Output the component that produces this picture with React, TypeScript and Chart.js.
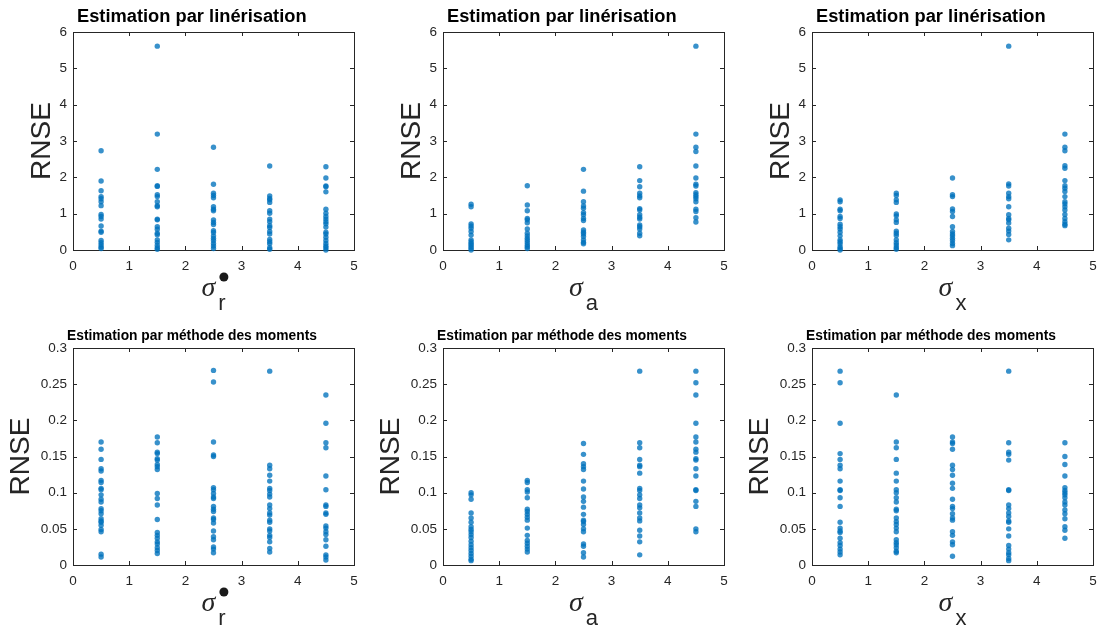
import React, { useEffect, useRef } from "react";
import { Chart, registerables } from "chart.js";

Chart.register(...registerables);

// ---------- data ----------
const xGroups = [0.5, 1.5, 2.5, 3.5, 4.5];
const xTicks = [0, 1, 2, 3, 4, 5];
const yTicksLin = [0, 1, 2, 3, 4, 5, 6];
const yTicksMom = [0, 0.05, 0.1, 0.15, 0.2, 0.25, 0.3];
const titleLin = "Estimation par linérisation";
const titleMom = "Estimation par méthode des moments";
const yLabelText = "RNSE";
const xSymbol = "σ";
const xSubscripts = ["r", "a", "x"];

// Estimation par linérisation — RNSE vs σr
const linSigmaR: number[][] = [
  [2.73, 1.9, 1.63, 1.47, 1.41, 1.33, 1.22, 0.98, 0.92, 0.85, 0.66, 0.52, 0.49, 0.26, 0.2, 0.14, 0.08, 0.04],
  [5.61, 3.19, 2.22, 1.77, 1.75, 1.52, 1.47, 1.33, 1.22, 1.19, 0.85, 0.83, 0.64, 0.57, 0.46, 0.42, 0.28, 0.21, 0.13, 0.06, 0.02],
  [2.83, 1.81, 1.56, 1.5, 1.44, 1.19, 1.12, 1.08, 0.83, 0.76, 0.7, 0.53, 0.48, 0.39, 0.32, 0.26, 0.18, 0.11, 0.04],
  [2.31, 1.49, 1.42, 1.38, 1.31, 1.08, 1.01, 0.85, 0.78, 0.67, 0.62, 0.51, 0.44, 0.29, 0.23, 0.17, 0.06, 0.02],
  [2.29, 1.98, 1.76, 1.74, 1.6, 1.12, 1.01, 0.92, 0.85, 0.78, 0.72, 0.63, 0.49, 0.44, 0.35, 0.26, 0.18, 0.11, 0.06, 0.0],
];
// Estimation par linérisation — RNSE vs σa
const linSigmaA: number[][] = [
  [1.26, 1.19, 0.72, 0.66, 0.6, 0.51, 0.41, 0.28, 0.23, 0.18, 0.14, 0.09, 0.05, 0.0],
  [1.77, 1.24, 1.08, 0.87, 0.83, 0.75, 0.58, 0.46, 0.39, 0.32, 0.26, 0.2, 0.14, 0.09, 0.04],
  [2.22, 1.62, 1.33, 1.21, 1.15, 1.03, 0.97, 0.87, 0.81, 0.55, 0.49, 0.44, 0.37, 0.28, 0.21, 0.17],
  [2.29, 1.91, 1.74, 1.56, 1.49, 1.44, 1.14, 1.1, 0.97, 0.9, 0.85, 0.69, 0.64, 0.58, 0.46, 0.39],
  [5.61, 3.19, 2.83, 2.71, 2.31, 1.98, 1.81, 1.76, 1.58, 1.52, 1.47, 1.41, 1.33, 1.12, 1.06, 0.89, 0.77],
];
// Estimation par linérisation — RNSE vs σx
const linSigmaX: number[][] = [
  [1.38, 1.33, 1.12, 1.08, 0.92, 0.87, 0.71, 0.64, 0.58, 0.49, 0.39, 0.28, 0.23, 0.17, 0.09, 0.04, 0.0],
  [1.56, 1.5, 1.38, 1.31, 0.99, 0.94, 0.83, 0.76, 0.52, 0.46, 0.4, 0.28, 0.2, 0.14, 0.07, 0.02],
  [1.98, 1.52, 1.47, 1.13, 1.06, 0.92, 0.64, 0.51, 0.44, 0.39, 0.32, 0.26, 0.18, 0.12],
  [5.61, 1.82, 1.76, 1.56, 1.47, 1.41, 1.19, 0.97, 0.87, 0.83, 0.74, 0.6, 0.52, 0.43, 0.28],
  [3.19, 2.83, 2.73, 2.32, 2.25, 1.91, 1.77, 1.7, 1.61, 1.47, 1.33, 1.27, 1.19, 1.1, 0.98, 0.87, 0.78, 0.71, 0.67],
];
// Estimation par méthode des moments — RNSE vs σr
const momSigmaR: number[][] = [
  [0.17, 0.16, 0.146, 0.133, 0.13, 0.117, 0.114, 0.106, 0.104, 0.097, 0.091, 0.087, 0.078, 0.075, 0.071, 0.064, 0.061, 0.059, 0.055, 0.049, 0.046, 0.015, 0.011],
  [0.177, 0.169, 0.156, 0.154, 0.147, 0.145, 0.139, 0.136, 0.132, 0.099, 0.092, 0.083, 0.063, 0.045, 0.041, 0.037, 0.032, 0.029, 0.024, 0.02, 0.016],
  [0.269, 0.253, 0.17, 0.152, 0.15, 0.107, 0.104, 0.099, 0.094, 0.092, 0.081, 0.077, 0.074, 0.065, 0.063, 0.058, 0.047, 0.039, 0.035, 0.025, 0.022, 0.017],
  [0.268, 0.138, 0.133, 0.124, 0.116, 0.106, 0.103, 0.098, 0.094, 0.083, 0.078, 0.072, 0.069, 0.062, 0.059, 0.05, 0.047, 0.041, 0.038, 0.032, 0.023, 0.018],
  [0.235, 0.196, 0.169, 0.162, 0.123, 0.104, 0.083, 0.081, 0.072, 0.07, 0.054, 0.051, 0.046, 0.042, 0.035, 0.026, 0.014, 0.011, 0.007],
];
// Estimation par méthode des moments — RNSE vs σa
const momSigmaA: number[][] = [
  [0.1, 0.097, 0.091, 0.072, 0.065, 0.059, 0.053, 0.049, 0.046, 0.042, 0.038, 0.033, 0.028, 0.024, 0.02, 0.016, 0.012, 0.008, 0.006],
  [0.117, 0.114, 0.104, 0.101, 0.093, 0.077, 0.074, 0.07, 0.066, 0.062, 0.051, 0.041, 0.034, 0.03, 0.026, 0.022, 0.018],
  [0.168, 0.153, 0.14, 0.136, 0.132, 0.116, 0.105, 0.094, 0.088, 0.08, 0.07, 0.062, 0.06, 0.056, 0.05, 0.046, 0.029, 0.026, 0.017, 0.011],
  [0.268, 0.169, 0.162, 0.146, 0.138, 0.136, 0.127, 0.106, 0.103, 0.097, 0.092, 0.083, 0.079, 0.072, 0.065, 0.061, 0.048, 0.04, 0.032, 0.014],
  [0.268, 0.252, 0.235, 0.196, 0.177, 0.17, 0.16, 0.156, 0.147, 0.145, 0.133, 0.123, 0.104, 0.103, 0.088, 0.081, 0.05, 0.046],
];
// Estimation par méthode des moments — RNSE vs σx
const momSigmaX: number[][] = [
  [0.268, 0.252, 0.196, 0.154, 0.146, 0.138, 0.133, 0.116, 0.104, 0.103, 0.093, 0.081, 0.059, 0.051, 0.047, 0.045, 0.037, 0.031, 0.027, 0.022, 0.018, 0.014],
  [0.235, 0.17, 0.162, 0.146, 0.127, 0.116, 0.104, 0.1, 0.093, 0.087, 0.077, 0.075, 0.065, 0.06, 0.056, 0.051, 0.046, 0.035, 0.031, 0.028, 0.024, 0.019, 0.017],
  [0.177, 0.17, 0.168, 0.16, 0.138, 0.132, 0.124, 0.113, 0.106, 0.091, 0.081, 0.078, 0.071, 0.065, 0.062, 0.046, 0.041, 0.032, 0.028, 0.012],
  [0.268, 0.169, 0.156, 0.153, 0.145, 0.104, 0.103, 0.083, 0.078, 0.072, 0.067, 0.061, 0.059, 0.05, 0.04, 0.027, 0.022, 0.017, 0.014, 0.009, 0.006],
  [0.169, 0.15, 0.139, 0.123, 0.107, 0.103, 0.1, 0.097, 0.093, 0.087, 0.083, 0.076, 0.071, 0.064, 0.053, 0.048, 0.037],
];

// ---------- styling ----------
const AXIS_COLOR = "#262626";
const POINT_COLOR = "rgba(0,114,189,0.78)";
const SANS = '"Liberation Sans", Arial, Helvetica, sans-serif';
const SERIF = '"Liberation Serif", "Times New Roman", serif';

type PanelCfg = {
  groups: number[][];
  yTicks: number[];
  yMax: number;
  title: string;
  titleFont: string;
  titleDx: number;
  titleDy: number;
  sub: string;
  bullet: boolean;
  yLabelDx: number;
  padTop: number;
};

const CANVAS_W = 359;
const CANVAS_H = 314;
const colLefts = [0, 370, 739];
const rowTops = [0, 315];

function makeDecor(cfg: PanelCfg) {
  return {
    id: "decor",
    beforeDatasetsDraw(chart: any) {
      const { ctx, chartArea, scales } = chart;
      const { left, right, top, bottom } = chartArea;
      ctx.save();
      ctx.strokeStyle = AXIS_COLOR;
      ctx.lineWidth = 1;
      ctx.strokeRect(Math.round(left) + 0.5, Math.round(top) + 0.5, Math.round(right - left), Math.round(bottom - top));
      const tl = 4;
      ctx.beginPath();
      xTicks.forEach((v) => {
        const px = Math.round(scales.x.getPixelForValue(v)) + 0.5;
        ctx.moveTo(px, bottom);
        ctx.lineTo(px, bottom - tl);
        ctx.moveTo(px, top);
        ctx.lineTo(px, top + tl);
      });
      cfg.yTicks.forEach((v) => {
        const py = Math.round(scales.y.getPixelForValue(v)) + 0.5;
        ctx.moveTo(left, py);
        ctx.lineTo(left + tl, py);
        ctx.moveTo(right, py);
        ctx.lineTo(right - tl, py);
      });
      ctx.stroke();
      ctx.restore();
    },
    afterDraw(chart: any) {
      const { ctx, chartArea } = chart;
      const { left, right, top, bottom } = chartArea;
      ctx.save();
      // title
      ctx.fillStyle = "#000";
      ctx.font = cfg.titleFont;
      ctx.textAlign = "left";
      ctx.textBaseline = "alphabetic";
      ctx.fillText(cfg.title, left + cfg.titleDx, top + cfg.titleDy);
      // y label
      ctx.save();
      ctx.translate(left + cfg.yLabelDx, (top + bottom) / 2);
      ctx.rotate(-Math.PI / 2);
      ctx.fillStyle = AXIS_COLOR;
      ctx.font = `28px ${SANS}`;
      ctx.textAlign = "center";
      ctx.textBaseline = "middle";
      ctx.fillText(yLabelText, 0, 0);
      ctx.restore();
      // x label: sigma with subscript
      ctx.fillStyle = AXIS_COLOR;
      ctx.textAlign = "left";
      ctx.textBaseline = "alphabetic";
      const sigFont = `italic 28px ${SERIF}`;
      const subFont = `22px ${SANS}`;
      ctx.font = sigFont;
      const w1 = ctx.measureText(xSymbol).width;
      ctx.font = subFont;
      const w2 = ctx.measureText(cfg.sub).width;
      const gap = 3;
      const total = w1 + gap + w2;
      const x0 = (left + right) / 2 - total / 2;
      ctx.font = sigFont;
      ctx.fillText(xSymbol, x0, bottom + 46);
      ctx.font = subFont;
      ctx.fillText(cfg.sub, x0 + w1 + gap, bottom + 60);
      if (cfg.bullet) {
        ctx.beginPath();
        ctx.fillStyle = "#1a1a1a";
        ctx.arc(x0 + w1 + gap + w2 / 2 + 2, bottom + 27, 4.5, 0, Math.PI * 2);
        ctx.fill();
      }
      ctx.restore();
    },
  };
}

function Panel({ cfg, left, top }: { cfg: PanelCfg; left: number; top: number }) {
  const ref = useRef<HTMLCanvasElement>(null);
  useEffect(() => {
    if (!ref.current) return;
    const points = cfg.groups.flatMap((vals, i) => vals.map((v) => ({ x: xGroups[i], y: v })));
    const tickFont = { family: SANS, size: 13.5 };
    const chart = new Chart(ref.current, {
      type: "scatter",
      data: {
        datasets: [
          {
            data: points,
            backgroundColor: POINT_COLOR,
            borderWidth: 0,
            pointRadius: 2.7,
            pointHoverRadius: 2.7,
            clip: false as any,
          },
        ],
      },
      options: {
        animation: false,
        responsive: false,
        events: [],
        layout: { padding: { top: cfg.padTop, right: 5, left: 0, bottom: 0 } },
        plugins: { legend: { display: false }, tooltip: { enabled: false }, title: { display: false } },
        scales: {
          x: {
            type: "linear",
            min: 0,
            max: 5,
            grid: { display: false, drawTicks: false },
            border: { display: false },
            afterBuildTicks: (s: any) => {
              s.ticks = xTicks.map((v) => ({ value: v }));
            },
            afterFit: (s: any) => {
              s.height = 64;
              s.paddingLeft = 0;
              s.paddingRight = 0;
            },
            ticks: {
              padding: 8,
              font: tickFont,
              color: AXIS_COLOR,
              maxRotation: 0,
              autoSkip: false,
              callback: (v: any) => String(v),
            },
          },
          y: {
            type: "linear",
            min: 0,
            max: cfg.yMax,
            grid: { display: false, drawTicks: false },
            border: { display: false },
            afterBuildTicks: (s: any) => {
              s.ticks = cfg.yTicks.map((v) => ({ value: v }));
            },
            afterFit: (s: any) => {
              s.width = 73;
              s.paddingTop = 0;
              s.paddingBottom = 0;
            },
            ticks: {
              padding: 6,
              font: tickFont,
              color: AXIS_COLOR,
              autoSkip: false,
              callback: (v: any) => String(v),
            },
          },
        },
      } as any,
      plugins: [makeDecor(cfg)],
    });
    return () => chart.destroy();
  }, [cfg]);
  return (
    <canvas
      ref={ref}
      width={CANVAS_W}
      height={CANVAS_H}
      style={{ position: "absolute", left, top, width: CANVAS_W, height: CANVAS_H, display: "block" }}
    />
  );
}

const linGroups = [linSigmaR, linSigmaA, linSigmaX];
const momGroups = [momSigmaR, momSigmaA, momSigmaX];

const panels: { cfg: PanelCfg; left: number; top: number }[] = [];
linGroups.forEach((g, i) =>
  panels.push({
    left: colLefts[i],
    top: rowTops[0],
    cfg: {
      groups: g,
      yTicks: yTicksLin,
      yMax: 6,
      title: titleLin,
      titleFont: `bold 18.3px ${SANS}`,
      titleDx: 4,
      titleDy: -10,
      sub: xSubscripts[i],
      bullet: i === 0,
      yLabelDx: -31,
      padTop: 32,
    },
  })
);
momGroups.forEach((g, i) =>
  panels.push({
    left: colLefts[i],
    top: rowTops[1],
    cfg: {
      groups: g,
      yTicks: yTicksMom,
      yMax: 0.3,
      title: titleMom,
      titleFont: `bold 13.8px ${SANS}`,
      titleDx: -6,
      titleDy: -8,
      sub: xSubscripts[i],
      bullet: i === 0,
      yLabelDx: -52,
      padTop: 33,
    },
  })
);

export default function App() {
  return (
    <div style={{ position: "fixed", left: 0, top: 0, width: 1098, height: 628, background: "#fff", overflow: "hidden" }}>
      {panels.map((p, i) => (
        <Panel key={i} cfg={p.cfg} left={p.left} top={p.top} />
      ))}
    </div>
  );
}
